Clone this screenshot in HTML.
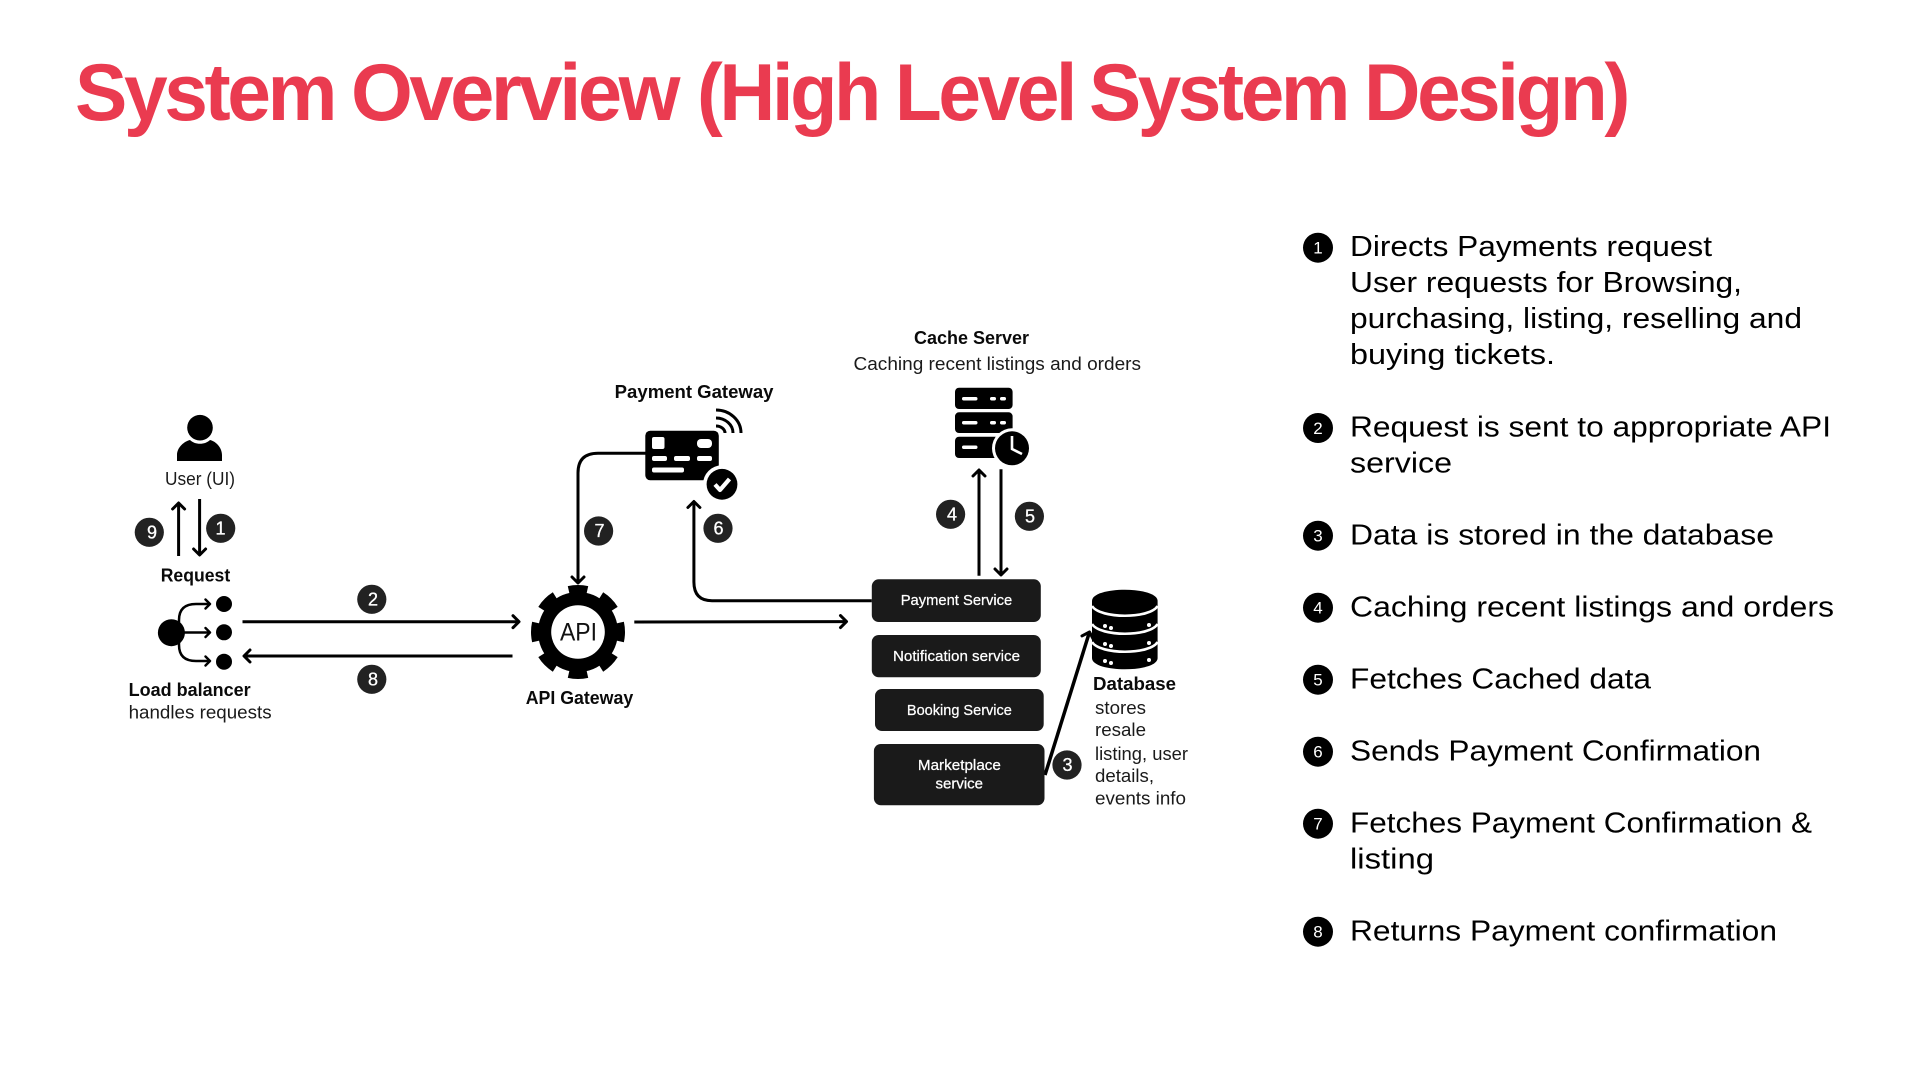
<!DOCTYPE html>
<html><head><meta charset="utf-8"><style>
html,body{margin:0;padding:0;background:#fff}
svg{display:block}
text{font-family:"Liberation Sans",sans-serif}
.b{font-weight:700;fill:#0a0a0a;font-size:18px}
.r{fill:#1a1a1a;font-size:18px}
.l{fill:#000;font-size:28.5px}
.s{fill:#fff;font-size:15px;text-anchor:start;stroke:#fff;stroke-width:.25px}
.d{fill:#fff;font-size:18px;text-anchor:middle;stroke:#fff;stroke-width:.3px}
.n{fill:#fff;font-size:17px;text-anchor:middle}
.t{font-size:81px;font-weight:700;fill:#ea3b50;letter-spacing:-3.5px}
</style></head><body>
<svg xmlns="http://www.w3.org/2000/svg" width="1920" height="1080" viewBox="0 0 1920 1080">
<defs>
<marker id="a" markerUnits="userSpaceOnUse" markerWidth="14" markerHeight="16" refX="10" refY="8" orient="auto"><polyline points="4,2 10,8 4,14" fill="none" stroke="#000" stroke-width="3" stroke-linecap="round" stroke-linejoin="round"/></marker>
<marker id="c" markerUnits="userSpaceOnUse" markerWidth="10" markerHeight="12" refX="8" refY="6" orient="auto"><polyline points="3.5,1.5 8,6 3.5,10.5" fill="none" stroke="#000" stroke-width="2.4" stroke-linecap="round" stroke-linejoin="round"/></marker>
</defs>
<rect width="1920" height="1080" fill="#fff"/>
<text class="t" x="75" y="120" textLength="259" lengthAdjust="spacingAndGlyphs">System</text>
<text class="t" x="351" y="120" textLength="326" lengthAdjust="spacingAndGlyphs">Overview</text>
<text class="t" x="697" y="120" textLength="181" lengthAdjust="spacingAndGlyphs">(High</text>
<text class="t" x="895" y="120" textLength="179" lengthAdjust="spacingAndGlyphs">Level</text>
<text class="t" x="1089" y="120" textLength="258" lengthAdjust="spacingAndGlyphs">System</text>
<text class="t" x="1364" y="120" textLength="263" lengthAdjust="spacingAndGlyphs">Design)</text>

<!-- user -->
<circle cx="200" cy="427.7" r="12.8" fill="#000"/>
<path d="M177,461 V455 C177,447 185,441 190,440 C195,445 205,445 210,440 C215,441 222,447 222,455 V461 Z" fill="#000"/>
<text class="r" x="165" y="485" textLength="70" lengthAdjust="spacingAndGlyphs">User (UI)</text>

<g fill="none" stroke="#000" stroke-width="3">
<path d="M178.6,556 V503" marker-end="url(#a)"/>
<path d="M199.6,499 V555" marker-end="url(#a)"/>
<path d="M242.5,621.7 H519" marker-end="url(#a)"/>
<path d="M512.5,656 H244" marker-end="url(#a)"/>
<path d="M646,453.3 H598 Q578,453.3 578,473 V583" marker-end="url(#a)"/>
<path d="M871.8,600.7 H712 Q693.9,600.7 693.9,582 V501.5" marker-end="url(#a)"/>
<path d="M634.3,622 L846.5,621.6" marker-end="url(#a)"/>
<path d="M979,575.7 V470" marker-end="url(#a)"/>
<path d="M1001,469.3 V575" marker-end="url(#a)"/>
<path d="M1045,775 L1089.5,632" stroke-width="3.5" marker-end="url(#a)"/>
</g>

<!-- load balancer -->
<circle cx="171.4" cy="632.7" r="13.5" fill="#000"/>
<circle cx="224" cy="604" r="8" fill="#000"/>
<circle cx="224" cy="632.3" r="8" fill="#000"/>
<circle cx="224" cy="661.7" r="8" fill="#000"/>
<g fill="none" stroke="#000" stroke-width="2.5">
<path d="M179,632 V620 Q179,604 196,604 H210" marker-end="url(#c)"/>
<path d="M180,632.5 H210" marker-end="url(#c)"/>
<path d="M179,632 V645 Q179,661 196,661 H210" marker-end="url(#c)"/>
</g>
<text class="b" x="160.7" y="581.7" textLength="69.5" lengthAdjust="spacingAndGlyphs">Request</text>
<text class="b" x="128.6" y="696" textLength="122" lengthAdjust="spacingAndGlyphs">Load balancer</text>
<text class="r" x="128.6" y="718.3" textLength="143" lengthAdjust="spacingAndGlyphs">handles requests</text>

<!-- gear -->
<circle cx="578" cy="632" r="40" fill="#000"/>
<circle cx="578" cy="632" r="43" fill="none" stroke="#000" stroke-width="8" pathLength="80" stroke-dasharray="5.6 4.4" stroke-dashoffset="2.8"/>
<circle cx="578" cy="632" r="26.8" fill="#fff"/>
<text x="560" y="640.7" font-size="25" fill="#111" textLength="37" lengthAdjust="spacingAndGlyphs">API</text>
<text class="b" x="525.7" y="704" textLength="107.5" lengthAdjust="spacingAndGlyphs">API Gateway</text>

<!-- card -->
<text class="b" x="614.7" y="398" textLength="158.8" lengthAdjust="spacingAndGlyphs">Payment Gateway</text>
<rect x="645.3" y="430.7" width="73.5" height="49.6" rx="5" fill="#000"/>
<g fill="#fff">
<rect x="652" y="437" width="12.5" height="12" rx="2"/>
<rect x="697" y="439" width="15" height="9" rx="4"/>
<rect x="652" y="456" width="15" height="5" rx="2"/>
<rect x="674" y="456" width="16" height="5" rx="2"/>
<rect x="697" y="456" width="15" height="5" rx="2"/>
<rect x="652" y="467.5" width="32" height="5" rx="2"/>
</g>
<g fill="none" stroke="#000" stroke-width="3">
<path d="M716,410 A25,23 0 0 1 741,433"/>
<path d="M716,418 A17,15 0 0 1 733,433"/>
<path d="M716,426 A9,7 0 0 1 725,433"/>
</g>
<circle cx="722" cy="484.3" r="19" fill="#fff"/>
<circle cx="722" cy="484.3" r="15.4" fill="#000"/>
<path d="M715,484.5 L720,490 L729.5,479" fill="none" stroke="#fff" stroke-width="4.2" stroke-linejoin="round"/>

<!-- cache -->
<text class="b" x="914" y="344" textLength="115" lengthAdjust="spacingAndGlyphs">Cache Server</text>
<text class="r" x="853.5" y="370" textLength="287.5" lengthAdjust="spacingAndGlyphs">Caching recent listings and orders</text>
<g fill="#000">
<rect x="955" y="387.7" width="57.6" height="21.3" rx="4"/>
<rect x="955" y="412.3" width="57.6" height="20.7" rx="4"/>
<rect x="955" y="436.7" width="57.6" height="21.3" rx="4"/>
</g>
<g fill="#fff">
<rect x="962" y="397" width="15.5" height="3.5" rx="1.7"/><rect x="990" y="397" width="6" height="3.5" rx="1.7"/><rect x="1000" y="397" width="6" height="3.5" rx="1.7"/>
<rect x="962" y="421" width="15.5" height="3.5" rx="1.7"/><rect x="990" y="421" width="6" height="3.5" rx="1.7"/><rect x="1000" y="421" width="6" height="3.5" rx="1.7"/>
<rect x="962" y="445.5" width="15.5" height="3.5" rx="1.7"/>
</g>
<circle cx="1012" cy="448.3" r="20" fill="#fff"/>
<circle cx="1012" cy="448.3" r="17" fill="#000"/>
<path d="M1012,436 V449 L1022,454" fill="none" stroke="#fff" stroke-width="2.6"/>

<!-- services -->
<g fill="#1a1a1a">
<rect x="871.8" y="579.3" width="169" height="42.7" rx="7"/>
<rect x="871.8" y="635" width="169" height="42.3" rx="7"/>
<rect x="875" y="689" width="168.7" height="42" rx="7"/>
<rect x="873.9" y="744" width="170.6" height="61.3" rx="7"/>
</g>
<text class="s" x="900.7" y="605" textLength="111.5" lengthAdjust="spacingAndGlyphs">Payment Service</text>
<text class="s" x="893" y="661" textLength="127" lengthAdjust="spacingAndGlyphs">Notification service</text>
<text class="s" x="906.9" y="715" textLength="105" lengthAdjust="spacingAndGlyphs">Booking Service</text>
<text class="s" x="917.9" y="770" textLength="83" lengthAdjust="spacingAndGlyphs">Marketplace</text>
<text class="s" x="935.5" y="788.7" textLength="47.5" lengthAdjust="spacingAndGlyphs">service</text>

<!-- database -->
<path d="M1092,601 C1092,586 1157.6,586 1157.6,601 V658 C1157.6,673 1092,673 1092,658 Z" fill="#000"/>
<g fill="none" stroke="#fff" stroke-width="2.6">
<path d="M1092,606 C1100,619 1150,619 1157.6,606"/>
<path d="M1092,624 C1100,637 1150,637 1157.6,624"/>
<path d="M1092,642 C1100,655 1150,655 1157.6,642"/>
</g>
<g fill="#fff">
<rect x="1103" y="624" width="4" height="4" rx="2"/><rect x="1109" y="626" width="4" height="4" rx="2"/><rect x="1147" y="623" width="4" height="4" rx="2"/>
<rect x="1103" y="642" width="4" height="4" rx="2"/><rect x="1109" y="644" width="4" height="4" rx="2"/><rect x="1147" y="641" width="4" height="4" rx="2"/>
<rect x="1103" y="659" width="4" height="4" rx="2"/><rect x="1109" y="661" width="4" height="4" rx="2"/><rect x="1147" y="658" width="4" height="4" rx="2"/>
</g>
<text class="b" x="1093" y="690" textLength="83" lengthAdjust="spacingAndGlyphs">Database</text>
<text class="r" x="1095" y="714" textLength="51" lengthAdjust="spacingAndGlyphs">stores</text>
<text class="r" x="1095" y="736" textLength="51" lengthAdjust="spacingAndGlyphs">resale</text>
<text class="r" x="1095" y="760" textLength="93" lengthAdjust="spacingAndGlyphs">listing, user</text>
<text class="r" x="1095" y="782" textLength="59" lengthAdjust="spacingAndGlyphs">details,</text>
<text class="r" x="1095" y="804.7" textLength="91" lengthAdjust="spacingAndGlyphs">events info</text>

<!-- badges -->
<g fill="#222">
<circle cx="149.3" cy="532.3" r="14.6"/><circle cx="220.7" cy="528.3" r="14.6"/>
<circle cx="371.8" cy="599.3" r="14.6"/><circle cx="371.8" cy="679.3" r="14.6"/>
<circle cx="598.6" cy="531" r="14.6"/><circle cx="718" cy="528.3" r="14.6"/>
<circle cx="950.6" cy="514.3" r="14.6"/><circle cx="1029.4" cy="516.3" r="14.6"/>
<circle cx="1067" cy="765" r="14.6"/>
</g>
<text class="d" x="152" y="538.5">9</text>
<text class="d" x="220.5" y="534.5">1</text>
<text class="d" x="373" y="605.5">2</text>
<text class="d" x="373" y="685.5">8</text>
<text class="d" x="599.5" y="537">7</text>
<text class="d" x="718.5" y="534.5">6</text>
<text class="d" x="952" y="520.5">4</text>
<text class="d" x="1030" y="522.5">5</text>
<text class="d" x="1067.5" y="771">3</text>

<!-- right list -->
<g fill="#000">
<circle cx="1318" cy="247.7" r="15"/><circle cx="1318" cy="428" r="15"/>
<circle cx="1318" cy="535.7" r="15"/><circle cx="1318" cy="607.7" r="15"/>
<circle cx="1318" cy="679.7" r="15"/><circle cx="1318" cy="751.7" r="15"/>
<circle cx="1318" cy="823.7" r="15"/><circle cx="1318" cy="931.7" r="15"/>
</g>
<text class="n" x="1318" y="253.7">1</text>
<text class="n" x="1318" y="434">2</text>
<text class="n" x="1318" y="541.7">3</text>
<text class="n" x="1318" y="613.7">4</text>
<text class="n" x="1318" y="685.7">5</text>
<text class="n" x="1318" y="757.7">6</text>
<text class="n" x="1318" y="829.7">7</text>
<text class="n" x="1318" y="937.7">8</text>

<text class="l" x="1350" y="256" textLength="362" lengthAdjust="spacingAndGlyphs">Directs Payments request</text>
<text class="l" x="1350" y="292" textLength="392" lengthAdjust="spacingAndGlyphs">User requests for Browsing,</text>
<text class="l" x="1350" y="328" textLength="452" lengthAdjust="spacingAndGlyphs">purchasing, listing, reselling and</text>
<text class="l" x="1350" y="364" textLength="205" lengthAdjust="spacingAndGlyphs">buying tickets.</text>
<text class="l" x="1350" y="436.7" textLength="481" lengthAdjust="spacingAndGlyphs">Request is sent to appropriate API</text>
<text class="l" x="1350" y="472.7" textLength="102" lengthAdjust="spacingAndGlyphs">service</text>
<text class="l" x="1350" y="544.7" textLength="424" lengthAdjust="spacingAndGlyphs">Data is stored in the database</text>
<text class="l" x="1350" y="616.7" textLength="484" lengthAdjust="spacingAndGlyphs">Caching recent listings and orders</text>
<text class="l" x="1350" y="688.7" textLength="301" lengthAdjust="spacingAndGlyphs">Fetches Cached data</text>
<text class="l" x="1350" y="760.7" textLength="411" lengthAdjust="spacingAndGlyphs">Sends Payment Confirmation</text>
<text class="l" x="1350" y="832.7" textLength="462" lengthAdjust="spacingAndGlyphs">Fetches Payment Confirmation &amp;</text>
<text class="l" x="1350" y="868.7" textLength="84" lengthAdjust="spacingAndGlyphs">listing</text>
<text class="l" x="1350" y="940.7" textLength="427" lengthAdjust="spacingAndGlyphs">Returns Payment confirmation</text>
</svg>
</body></html>
